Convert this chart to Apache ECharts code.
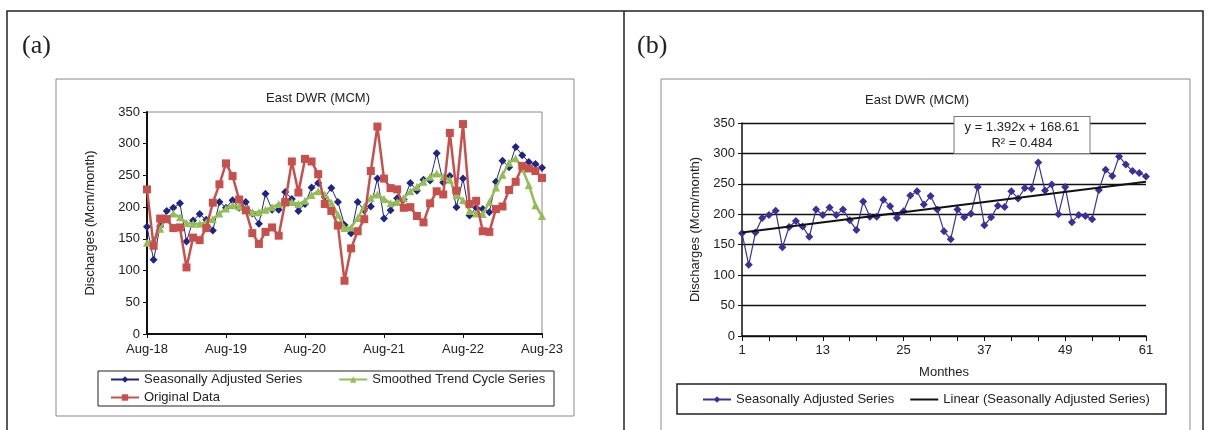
<!DOCTYPE html>
<html>
<head>
<meta charset="utf-8">
<title>East DWR (MCM)</title>
<style>
  html, body { margin: 0; padding: 0; background: #fff; }
  #main { width: 1208px; height: 430px; }
</style>
</head>
<body>
<div id="main"></div>
<script src="https://cdn.jsdelivr.net/npm/echarts@6/dist/echarts.min.js"></script>
<script>
// month categories Aug-18 .. Aug-23
var monthNames = ['Jan', 'Feb', 'Mar', 'Apr', 'May', 'Jun', 'Jul', 'Aug', 'Sep', 'Oct', 'Nov', 'Dec'];
var months = [];
for (var i = 0; i < 61; i++) {
    months.push(monthNames[(7 + i) % 12] + '-' + (18 + Math.floor((7 + i) / 12)));
}
// month numbers 1..61 for panel (b)
var monthNo = [];
for (var j = 1; j <= 61; j++) monthNo.push(String(j));

// values
var seasonal = [169, 117, 170, 194, 199, 206, 146, 179, 189, 180, 163, 208, 199, 211, 199, 208, 190, 174, 221, 196,
    196, 224, 213, 194, 205, 231, 238, 216, 230, 208, 172, 159, 208, 195, 201, 245, 182, 195, 214, 212,
    238, 226, 243, 242, 285, 239, 249, 200, 245, 187, 199, 197, 192, 240, 273, 263, 295, 282, 271, 268, 262];
var smoothed = [144, 147, 166, 183, 190, 184, 175, 174, 174, 176, 181, 190, 198, 203, 201, 196, 192, 192, 196, 200,
    205, 207, 208, 205, 210, 219, 225, 220, 207, 188, 167, 168, 183, 201, 215, 220, 213, 206, 208, 214,
    225, 232, 240, 248, 253, 248, 243, 219, 211, 194, 190, 189, 208, 231, 251, 270, 277, 261, 235, 203, 186];
var original = [228, 139, 182, 181, 167, 168, 105, 152, 148, 167, 207, 236, 269, 249, 212, 195, 159, 142, 161, 168,
    155, 208, 272, 223, 276, 272, 252, 205, 194, 171, 84, 135, 162, 181, 257, 327, 245, 230, 228, 199,
    200, 186, 176, 206, 225, 220, 317, 226, 331, 205, 210, 162, 161, 197, 201, 227, 240, 265, 261, 257, 246];

// linear trend as printed on the chart
var trendSlope = 1.392;
var trendIntercept = 168.61;
var trendR2 = 0.484;

var font = 'Liberation Sans';
var blueA = '#1f2584';
var blueB = '#3b2f98';
var green = '#93bd55';
var red = '#c8504c';

var chart = echarts.init(document.getElementById('main'));

var option = {
    animation: false,
    textStyle: { fontFamily: font },
    grid: [
        { left: 147, top: 112, width: 395, height: 222, show: true, borderColor: '#8a8a8a', borderWidth: 1, backgroundColor: 'transparent' },
        { left: 742, top: 123, width: 404, height: 213 }
    ],
    xAxis: [{
        gridIndex: 0,
        type: 'category',
        data: months,
        boundaryGap: false,
        axisLine: { lineStyle: { color: '#111', width: 2 } },
        axisTick: { interval: 11, length: 4, lineStyle: { color: '#111' } },
        axisLabel: { interval: 11, color: '#222', fontSize: 13, fontFamily: font, margin: 9 },
        splitLine: { show: false }
    }, {
        gridIndex: 1,
        type: 'category',
        data: monthNo,
        boundaryGap: false,
        name: 'Monthes',
        nameLocation: 'middle',
        nameGap: 30,
        nameTextStyle: { color: '#222', fontSize: 13, fontFamily: font },
        axisLine: { lineStyle: { color: '#111', width: 1.5 } },
        axisTick: { interval: 3, length: 5, lineStyle: { color: '#111' } },
        axisLabel: { interval: 11, color: '#222', fontSize: 13, fontFamily: font, margin: 8 },
        splitLine: { show: false }
    }],
    yAxis: [{
        gridIndex: 0,
        type: 'value',
        min: 0, max: 350, interval: 50,
        name: 'Discharges (Mcm/month)',
        nameLocation: 'middle',
        nameGap: 50,
        nameTextStyle: { color: '#222', fontSize: 13, fontFamily: font },
        axisLine: { show: true, lineStyle: { color: '#111', width: 2 } },
        axisTick: { show: true, length: 4, lineStyle: { color: '#111' } },
        axisLabel: { color: '#222', fontSize: 13, fontFamily: font, margin: 7 },
        splitLine: { show: false }
    }, {
        gridIndex: 1,
        type: 'value',
        min: 0, max: 350, interval: 50,
        name: 'Discharges (Mcm/month)',
        nameLocation: 'middle',
        nameGap: 40,
        nameTextStyle: { color: '#222', fontSize: 13, fontFamily: font },
        axisLine: { show: true, lineStyle: { color: '#111', width: 1.5 } },
        axisTick: { show: true, length: 4, lineStyle: { color: '#111' } },
        axisLabel: { color: '#222', fontSize: 13, fontFamily: font, margin: 7 },
        splitLine: { show: true, lineStyle: { color: '#111', width: 1.3 } }
    }],
    legend: [{
        data: ['Seasonally Adjusted Series', 'Smoothed Trend Cycle Series'],
        left: 110, top: 373,
        itemWidth: 28, itemHeight: 8, itemGap: 36,
        padding: 0,
        textStyle: { color: '#222', fontSize: 13, fontFamily: font }
    }, {
        data: ['Original Data'],
        left: 110, top: 391,
        itemWidth: 28, itemHeight: 8,
        padding: 0,
        textStyle: { color: '#222', fontSize: 13, fontFamily: font }
    }, {
        data: [
            { name: 'Seasonally Adjusted Series', itemStyle: { color: blueB }, lineStyle: { color: blueB } },
            { name: 'Linear (Seasonally Adjusted Series)', itemStyle: { opacity: 0 } }
        ],
        left: 702, top: 393,
        itemWidth: 28, itemHeight: 8, itemGap: 15,
        padding: 0,
        textStyle: { color: '#222', fontSize: 13, fontFamily: font }
    }],
    graphic: [
        { type: 'rect', shape: { x: 7, y: 11, width: 1196, height: 440 }, style: { fill: 'none', stroke: '#222', lineWidth: 1.5 } },
        { type: 'line', shape: { x1: 624, y1: 11, x2: 624, y2: 430 }, style: { stroke: '#222', lineWidth: 1.5 } },
        { type: 'rect', shape: { x: 56, y: 79, width: 518, height: 337 }, style: { fill: 'none', stroke: '#8a8a8a', lineWidth: 1 } },
        { type: 'rect', shape: { x: 661, y: 79, width: 529, height: 360 }, style: { fill: 'none', stroke: '#8a8a8a', lineWidth: 1 } },
        { type: 'rect', shape: { x: 98, y: 371, width: 456, height: 35 }, style: { fill: 'none', stroke: '#222', lineWidth: 1 } },
        { type: 'rect', shape: { x: 677, y: 384, width: 489, height: 30 }, style: { fill: 'none', stroke: '#1c1c3a', lineWidth: 1.5 } },
        { type: 'text', x: 22, y: 33, style: { text: '(a)', font: '26px "Liberation Serif"', fill: '#222' } },
        { type: 'text', x: 637, y: 33, style: { text: '(b)', font: '26px "Liberation Serif"', fill: '#222' } },
        { type: 'text', x: 318, y: 92, style: { text: 'East DWR (MCM)', font: '13px "Liberation Sans"', fill: '#222', textAlign: 'center' } },
        { type: 'text', x: 917, y: 94, style: { text: 'East DWR (MCM)', font: '13px "Liberation Sans"', fill: '#222', textAlign: 'center' } },
        {
            type: 'text', x: 1022, y: 117, z: 10,
            style: {
                text: 'y = ' + trendSlope + 'x + ' + trendIntercept + '\nR² = ' + trendR2,
                font: '13px "Liberation Sans"', fill: '#222', align: 'center', textAlign: 'center',
                backgroundColor: '#fff', borderColor: '#777', borderWidth: 1,
                padding: [2, 10, 2, 10], lineHeight: 16
            }
        }
    ],
    series: [{
        name: 'Seasonally Adjusted Series',
        type: 'line', xAxisIndex: 0, yAxisIndex: 0,
        data: seasonal,
        showAllSymbol: true,
        symbol: 'diamond', symbolSize: 8,
        lineStyle: { color: blueA, width: 1 },
        itemStyle: { color: blueA },
        z: 2
    }, {
        name: 'Smoothed Trend Cycle Series',
        type: 'line', xAxisIndex: 0, yAxisIndex: 0,
        data: smoothed,
        showAllSymbol: true,
        symbol: 'triangle', symbolSize: 8,
        lineStyle: { color: green, width: 2.5 },
        itemStyle: { color: green },
        z: 3
    }, {
        name: 'Original Data',
        type: 'line', xAxisIndex: 0, yAxisIndex: 0,
        data: original,
        showAllSymbol: true,
        symbol: 'rect', symbolSize: 8,
        lineStyle: { color: red, width: 2.5 },
        itemStyle: { color: red },
        z: 4
    }, {
        name: 'Seasonally Adjusted Series',
        type: 'line', xAxisIndex: 1, yAxisIndex: 1,
        data: seasonal,
        showAllSymbol: true,
        symbol: 'diamond', symbolSize: 8,
        lineStyle: { color: blueB, width: 1.2 },
        itemStyle: { color: blueB },
        z: 2
    }, {
        name: 'Linear (Seasonally Adjusted Series)',
        type: 'line', xAxisIndex: 1, yAxisIndex: 1,
        data: [[0, trendIntercept + trendSlope * 1], [60, trendIntercept + trendSlope * 61]],
        symbol: 'none',
        lineStyle: { color: '#111', width: 2 },
        itemStyle: { color: '#111' },
        z: 3
    }]
};

chart.setOption(option);
</script>
</body>
</html>
